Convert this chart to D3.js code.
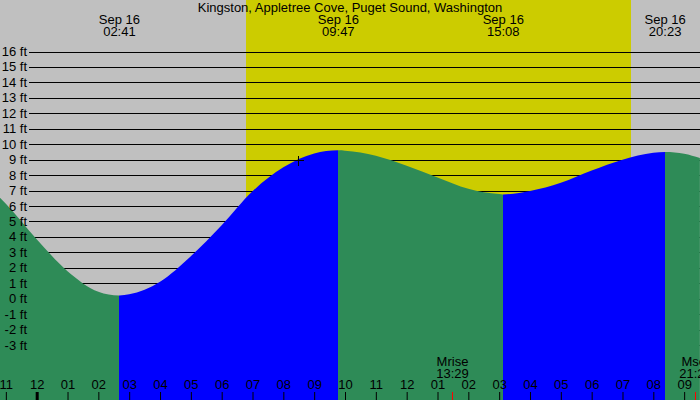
<!DOCTYPE html>
<html>
<head>
<meta charset="utf-8">
<script src="https://cdn.jsdelivr.net/npm/d3@7"></script>
<style>
  body { margin: 0; background: #c0c0c0; }
  svg { display: block; }
  text { font-family: "Liberation Sans", Arial, sans-serif; font-size: 13px; fill: #000; }
</style>
</head>
<body>
<div id="chart"></div>
<script>
// Tide heights (hours since midnight Sep 16, feet)
const readHours   = [-1.19, -1, 0, 1, 2, 3, 4, 5, 6, 7, 8, 9, 10, 11, 12, 13, 14, 15, 16, 17, 18, 19, 20, 21, 21.51];
const readHeights = [6.54, 6.15, 3.85, 1.78, 0.45, 0.28, 1.1, 2.75, 4.75, 6.95, 8.5, 9.4, 9.58, 9.25, 8.6, 7.85, 7.12, 6.77, 6.97, 7.5, 8.3, 9.0, 9.45, 9.38, 9.1];

// High / low tides
const extremeTimes   = ["02:41", "09:47", "15:08", "20:23"];
const extremeHeights = [0.2, 9.6, 6.75, 9.5];
const extremeDates   = ["Sep 16", "Sep 16", "Sep 16", "Sep 16"];

// Sun and moon
const sunrise = "06:47";
const sunset  = "19:17";
const moonLabels = ["Mrise", "Mset"];
const moonTimes  = ["13:29", "21:21"];

// current position marker
const markerTime = "08:29";
const markerHeight = 9.0;

const feetTicks = d3.range(-3, 17);
const hourTicks = d3.range(-1, 22);

const title = "Kingston, Appletree Cove, Puget Sound, Washington";

const width = 700, height = 400;
const toHours = s => { const p = s.split(":"); return +p[0] + p[1] / 60; };

const xScale = d3.scaleLinear().domain([-1.19, 21.514]).range([0, width]);
const yScale = d3.scaleLinear().domain([-3, 16]).range([345, 51.5]);

// merge the readings with the extremes
const points = readHours.map((h, i) => ({ t: h, v: readHeights[i] }))
  .concat(extremeTimes.map((s, i) => ({ t: toHours(s), v: extremeHeights[i] })))
  .sort((a, b) => a.t - b.t);

const svg = d3.select("#chart").append("svg")
  .attr("width", width).attr("height", height)
  .attr("viewBox", [0, 0, width, height]);

// night / day background
svg.append("rect").attr("width", width).attr("height", height).attr("fill", "#c0c0c0");
svg.append("rect")
  .attr("x", Math.round(xScale(toHours(sunrise))))
  .attr("width", Math.round(xScale(toHours(sunset))) - Math.round(xScale(toHours(sunrise))))
  .attr("height", height)
  .attr("fill", "#cccc00");

// grid lines
svg.append("g").selectAll("line")
  .data(feetTicks)
  .join("line")
  .attr("x1", 29).attr("x2", width)
  .attr("y1", d => Math.round(yScale(d)) + 0.5)
  .attr("y2", d => Math.round(yScale(d)) + 0.5)
  .attr("stroke", "#000")
  .attr("shape-rendering", "crispEdges");

// water: rising = blue, falling = green
const bounds = [xScale.domain()[0]].concat(extremeTimes.map(toHours), [xScale.domain()[1]]);
const boundHeights = [points[0].v].concat(extremeHeights, [points[points.length - 1].v]);
const segments = d3.pairs(bounds).map(([a, b], i) => ({
  a, b,
  rising: boundHeights[i + 1] > boundHeights[i]
}));

const areaGenerator = d3.area()
  .x(d => xScale(d.t))
  .y0(height)
  .y1(d => yScale(d.v))
  .curve(d3.curveMonotoneX);

const defs = svg.append("defs");
segments.forEach((s, i) => {
  const x0 = Math.round(xScale(s.a)), x1 = Math.round(xScale(s.b));
  defs.append("clipPath").attr("id", "seg" + i)
    .append("rect")
    .attr("x", x0).attr("y", 0)
    .attr("width", x1 - x0).attr("height", height);
});

svg.append("g").selectAll("path")
  .data(segments)
  .join("path")
  .attr("d", areaGenerator(points))
  .attr("clip-path", (d, i) => `url(#seg${i})`)
  .attr("fill", d => d.rising ? "#0000ff" : "#2e8b57");

// feet labels
svg.append("g").selectAll("text")
  .data(feetTicks)
  .join("text")
  .attr("x", 27)
  .attr("y", d => yScale(d))
  .attr("dy", "0.35em")
  .attr("text-anchor", "end")
  .text(d => d + " ft");

// title and extreme labels
svg.append("text").attr("x", width / 2).attr("y", 12).attr("text-anchor", "middle").text(title);

const ext = svg.append("g").selectAll("g")
  .data(extremeTimes)
  .join("g")
  .attr("transform", d => `translate(${xScale(toHours(d))},0)`);
ext.append("text").attr("y", 24).attr("text-anchor", "middle").text((d, i) => extremeDates[i]);
ext.append("text").attr("y", 36).attr("text-anchor", "middle").text(d => d);

// hour axis
const hourFormat = t => {
  const h = ((t % 24) + 24) % 24;
  const h12 = h % 12 === 0 ? 12 : h % 12;
  return String(h12).padStart(2, "0");
};
const bottomAxis = d3.axisTop(xScale)
  .tickValues(hourTicks)
  .tickFormat(hourFormat)
  .tickSize(8)
  .tickPadding(3);

const axisG = svg.append("g")
  .attr("transform", `translate(0, ${height})`)
  .call(bottomAxis);
axisG.select(".domain").remove();
axisG.selectAll("text")
  .attr("font-family", "'Liberation Sans', Arial, sans-serif")
  .attr("font-size", 13)
  .attr("fill", "#000");
axisG.selectAll(".tick line")
  .attr("stroke", "#000")
  .attr("stroke-width", d => d === 0 ? 3 : 1);

// moon rise / set
const moon = svg.append("g").selectAll("g")
  .data(moonTimes)
  .join("g")
  .attr("transform", d => `translate(${Math.round(xScale(toHours(d))) + 0.5},0)`);
moon.append("line").attr("y1", 392).attr("y2", height).attr("stroke", "#ff0000");
moon.append("text").attr("y", 366).attr("text-anchor", "middle").text((d, i) => moonLabels[i]);
moon.append("text").attr("y", 378).attr("text-anchor", "middle").text(d => d);

// cross marker
const mx = Math.round(xScale(toHours(markerTime))) + 0.5;
const my = Math.round(yScale(markerHeight)) + 0.5;
svg.append("path")
  .attr("d", `M${mx - 5},${my}H${mx + 5}M${mx},${my - 5}V${my + 5}`)
  .attr("stroke", "#000")
  .attr("shape-rendering", "crispEdges");
</script>
</body>
</html>
